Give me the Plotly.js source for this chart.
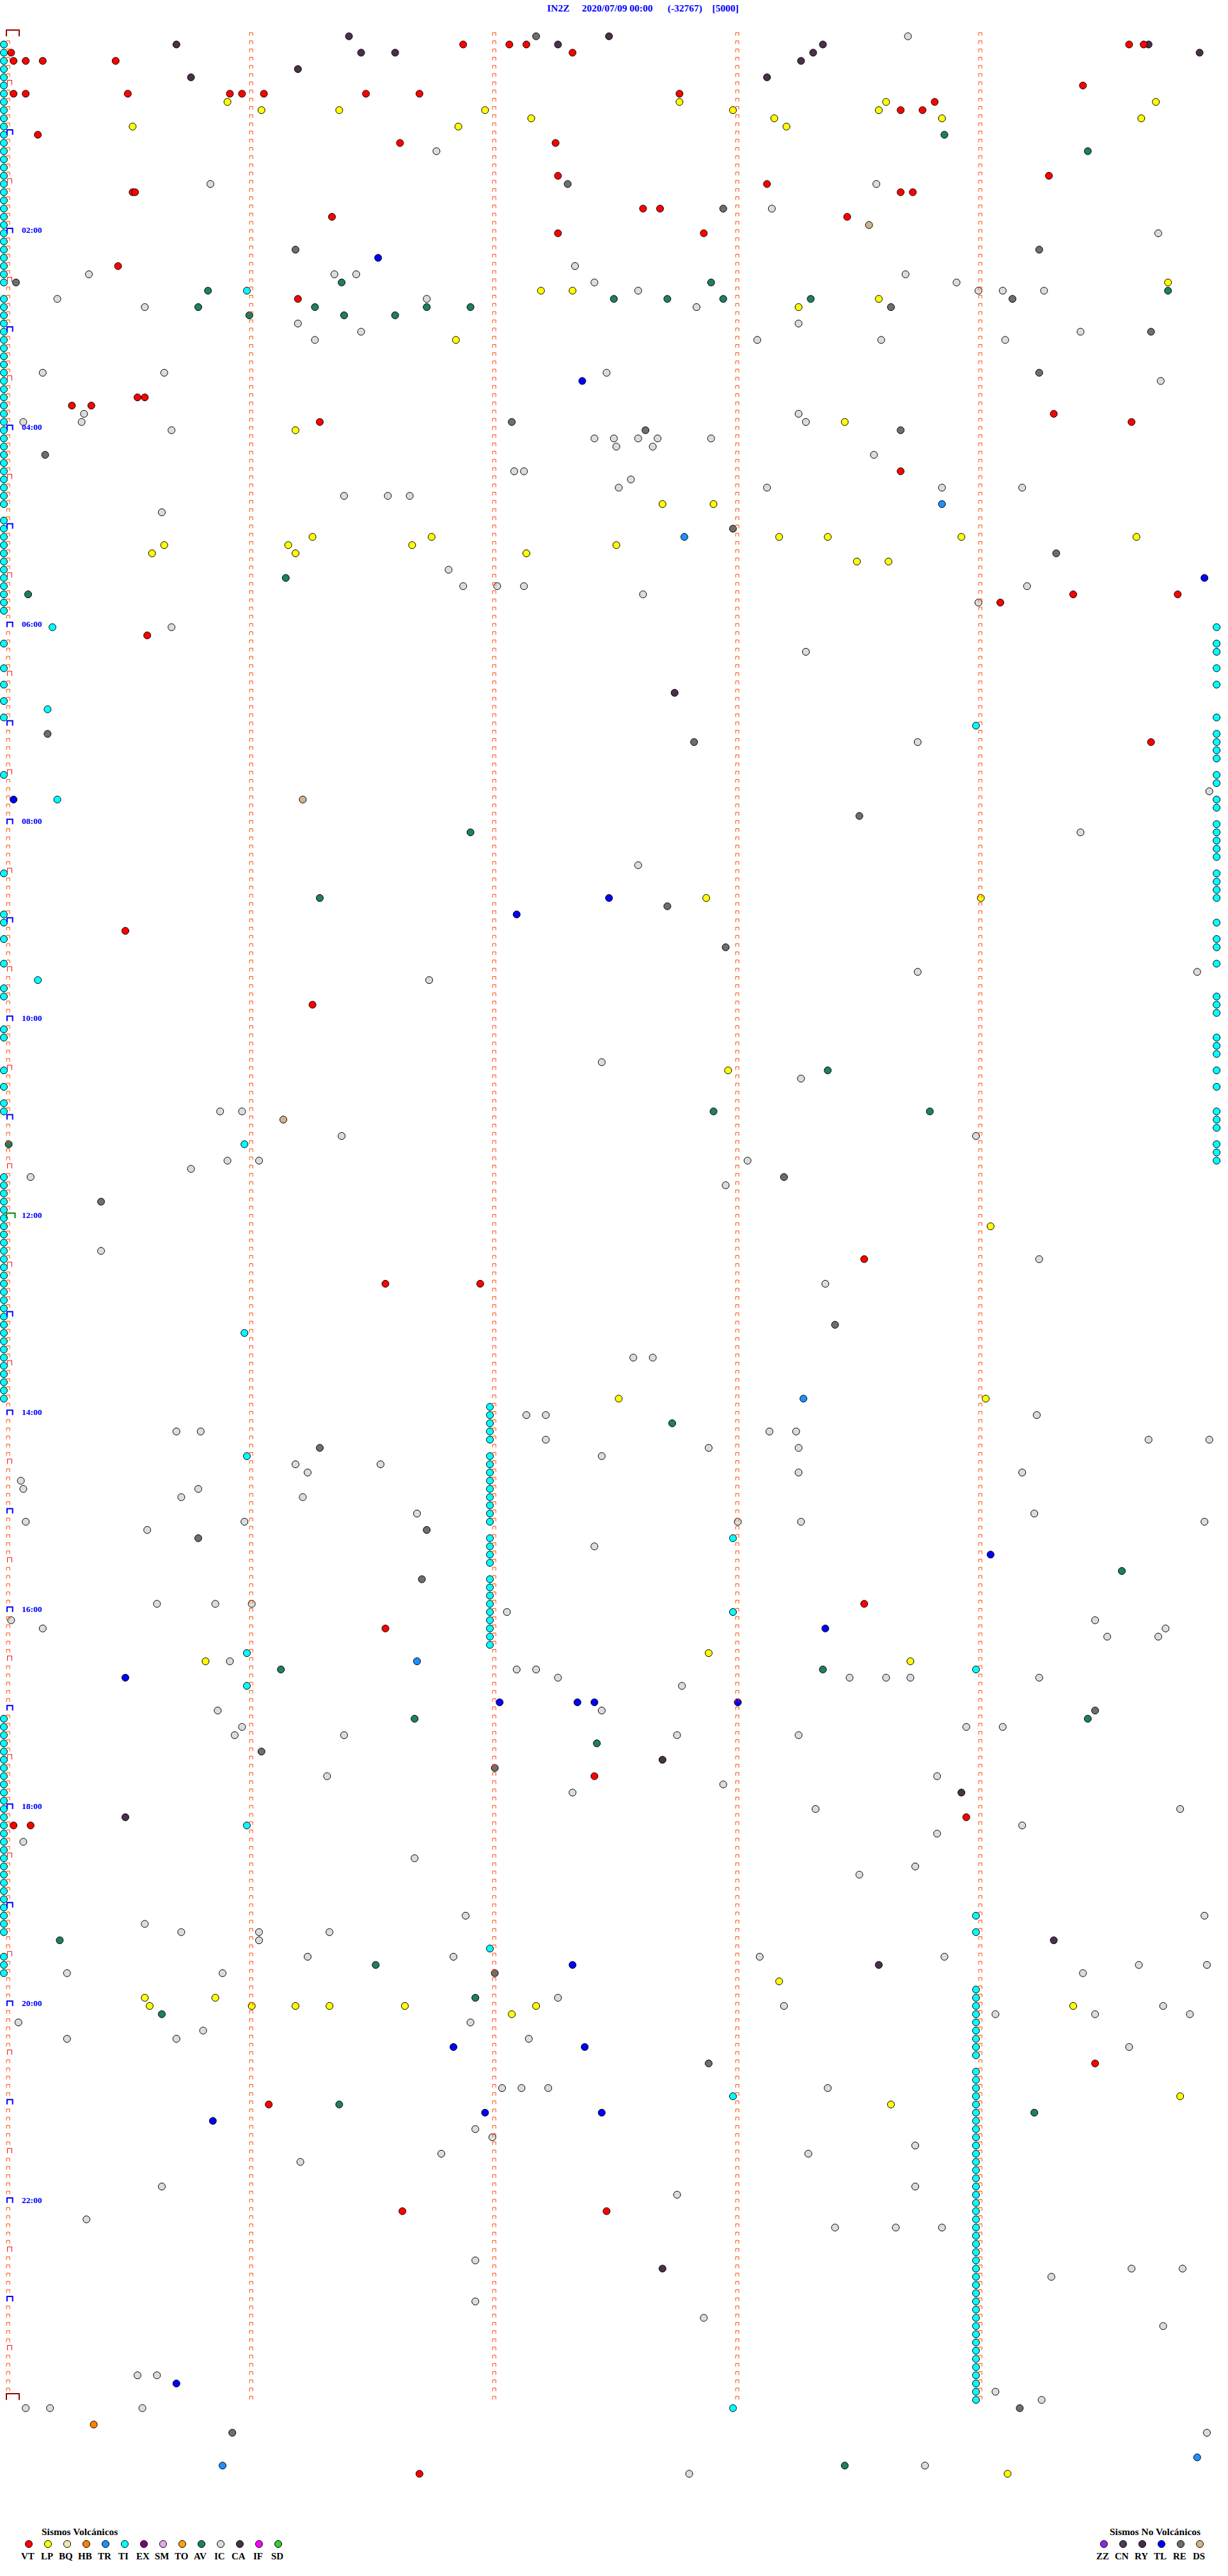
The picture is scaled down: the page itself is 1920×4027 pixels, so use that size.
<!DOCTYPE html>
<html><head><meta charset="utf-8">
<script src="https://cdn.plot.ly/plotly-3.0.1.min.js"></script>
<style>html,body{margin:0;padding:0;background:#fff}#chart{width:1920px;height:4027px}</style>
</head><body><div id="chart"></div>
<script>
// ---- event times, minutes after 2020/07/09 00:00 (each drum row = 5 minutes) ----
const VT = [6.89, 7.08, 7.15, 9.63, 9.69, 10.03, 12.34, 15.04, 15.09, 15.16, 15.46, 34.44, 35.04, 35.09, 35.51, 35.93, 35.98, 36.07, 36.49, 36.71, 37.78, 43.83, 48.69, 48.78, 60.14, 66.63, 67.27, 87.28, 89.30, 93.14, 95.53, 95.54, 98.69, 98.74, 107.63, 107.70, 111.35, 113.47, 122.28, 122.88, 140.47, 161.21, 220.55, 220.58, 225.28, 225.36, 234.32, 236.30, 239.64, 268.69, 344.40, 344.83, 349.10, 365.59, 434.72, 545.50, 591.27, 748.54,
  761.57, 761.96, 958.54, 971.57, 1062.43, 1088.96, 1090.04, 1090.11, 1239.49, 1261.09, 1326.64, 1327.48, 1486.71];
const LP = [40.92, 42.78, 43.63, 44.74, 46.06, 46.38, 46.98, 48.00, 48.60, 52.17, 53.17, 53.86, 54.68, 55.53, 56.87, 58.22, 154.79, 157.21, 157.34, 163.60, 168.27, 186.86, 238.46, 241.20, 287.71, 287.92, 306.27, 306.76, 308.19, 308.39, 308.94, 309.66, 310.66, 311.17, 311.68, 312.52, 315.61, 316.20, 317.15, 323.51, 323.64, 527.89, 529.02, 632.98, 729.06,
  832.53, 834.04, 987.90, 990.83, 993.73, 1188.19, 1195.58, 1195.87, 1200.60, 1201.02, 1201.20, 1201.34, 1201.65, 1202.19, 1204.40, 1207.09, 1259.84, 1263.65, 1489.13];
const TI = [5, 10, 15, 20, 25, 30, 35, 40, 45, 50, 55, 60, 65, 70, 75, 80, 85, 90, 95, 100, 105, 110, 115, 120, 125, 130, 135, 140, 145, 150,
  156.0, 160, 165, 170, 175, 180, 185, 190, 195, 200, 205, 210, 215, 220, 225, 230, 235, 240, 245, 250, 255, 260, 265, 270, 275, 280, 285,
  295, 300, 305, 310, 315, 320, 325, 330, 335, 340, 345, 350, 360.20, 364.99, 370, 374.99, 379.99, 385, 389.99, 395, 399.99, 405, 410.18, 415,
  419.99, 424.00, 429.99, 434.99, 439.99, 444.99, 450, 454.99, 459.99, 465.22, 469.99, 474.99, 484.99, 489.99, 494.99, 499.99, 504.99,
  510, 514.99, 519.99, 524.99, 529.99, 535, 540, 544.99, 550, 554.99, 559.99, 565, 569.99, 575.14, 580, 585, 589.99, 594.99, 599.99,
  605, 610, 614.99, 619.99, 624.99, 630, 634.99, 640, 644.99, 650, 655, 659.99, 664.99, 669.99, 675.99, 679.99, 684.99, 689.99,
  695, 700, 705, 710, 715, 720, 725, 730, 735, 740, 745, 750,
  755, 760, 765, 770, 775, 780, 785, 790, 795, 800, 805, 810, 815, 820, 825, 830, 790.99,
  837, 842, 847, 852, 857, 866.0, 867, 872, 877, 882, 887, 892, 897, 902, 907, 917, 918.0, 922, 927, 932, 942, 947, 952, 957, 962, 963.0, 967, 972, 977, 982,
  986.0, 999.0, 1006.0, 1025, 1030, 1035, 1040, 1045, 1050, 1055, 1060, 1065, 1070, 1075, 1080, 1085, 1090, 1091.0, 1095, 1100, 1105, 1110, 1115, 1120,
  1125, 1130, 1135, 1140, 1145, 1149.0, 1150, 1155, 1159.0, 1167.0, 1170, 1175, 1180,
  1194, 1199, 1204, 1209, 1214, 1219, 1224, 1229, 1234, 1244, 1249, 1254, 1258.0, 1259, 1264, 1269, 1274, 1279, 1284, 1289, 1294, 1299, 1304, 1309,
  1314, 1319, 1324, 1329, 1334, 1339, 1344, 1349, 1354, 1359, 1364, 1369, 1374, 1379, 1384, 1389, 1394, 1399, 1404, 1409, 1414, 1419, 1424,
  1429, 1434, 1439, 1444, 1448.0];
const AV = [63.87, 74.46, 151.39, 152.91, 155.84, 159.79, 162.51, 162.73, 162.96, 163.32, 165.80, 166.28, 166.74, 166.92, 171.01, 171.40, 171.61, 331.16, 340.10, 486.92, 526.30, 633.39, 657.92, 658.81, 675.02,
  847.75, 939.60, 996.14, 998.37, 1026.69, 1029.46, 1042.44, 1160.23, 1176.53, 1196.94, 1205.65, 1261.38, 1269.24, 1483.46];
const IC = [3.72, 71.78, 90.85, 93.59, 108.16, 124.75, 142.35, 145.35, 146.36, 146.45, 148.71, 152.43, 153.92, 157.61, 159.01, 159.11, 159.28, 160.22, 161.74, 165.58, 167.85, 176.21, 178.27, 181.47, 184.43, 186.28, 188.10, 188.61, 189.12, 205.16, 205.66, 207.48, 214.76, 230.33, 233.27, 235.08, 235.32, 238.30, 240.69, 247.43, 247.51, 247.61, 247.69, 247.91, 252.52, 252.67, 258.58, 267.10, 267.14, 272.58, 277.53, 278.14, 278.86, 279.19, 281.40, 281.58, 281.67, 290.65, 326.83, 336.89, 337.03, 337.14, 339.21, 342.63, 349.01, 360.69, 378.30, 433.76, 464.96, 489.43, 507.61, 573.76, 574.91, 576.75, 627.46, 638.28, 655.89, 655.98, 671.39, 674.00, 685.92, 686.05, 688.06, 690.77, 695.11, 702.97, 740.40, 749.26,
  763.38, 807.59, 807.67, 842.15, 842.23, 844.25, 850.71, 850.81, 853.15, 853.26, 857.23, 859.71, 859.96, 862.90, 863.27, 867.46, 871.20, 871.55, 876.25, 878.27, 879.19, 880.07, 885.08, 885.80, 890.73, 891.23, 901.70, 904.24, 905.09, 905.99, 908.02, 908.28, 909.94, 910.59, 922.43, 955.63, 955.87, 956.02, 962.07, 965.03, 969.49, 970.16, 974.78, 979.54, 979.75, 990.93, 997.11, 997.19, 1002.28, 1003.48, 1003.63, 1003.73, 1004.26, 1007.79, 1020.88, 1022.46, 1030.98, 1033.96, 1034.11, 1035.95, 1036.40, 1037.77, 1038.27, 1061.33, 1063.84, 1067.96, 1072.34, 1083.34, 1084.84, 1094.19, 1098.84, 1100.08, 1111.69, 1118.75, 1123.52, 1146.90, 1149.94, 1150.58, 1155.73, 1156.05, 1156.34, 1161.05, 1171.25, 1171.85, 1173.11, 1173.87, 1179.67, 1179.95, 1180.26, 1180.90, 1184.44, 1197.28, 1203.21, 1204.77, 1209.08, 1209.49, 1209.88, 1210.06, 1211.92, 1215.82, 1220.26, 1220.71, 1222.16, 1229.63, 1252.05, 1252.13, 1252.24, 1253.39, 1276.94, 1282.01, 1288.75, 1291.80, 1293.31, 1296.22, 1310.65, 1313.75, 1317.77, 1330.34, 1338.42, 1338.67, 1338.86, 1356.94, 1364.64, 1364.85, 1369.31, 1381.94, 1392.88, 1399.77, 1425.55, 1425.63, 1439.08, 1444.27, 1445.09, 1445.19, 1445.57, 1464.95, 1483.79, 1487.82];
const CA = [1.42, 2.49, 5.71, 7.28, 8.37, 9.71, 11.47, 11.61, 13.33, 14.92, 18.28, 21.21, 25.77, 28.14, 402.76, 1052.71, 1073.94, 1085.50, 1164.32, 1178.60, 1362.71];
const RE = [2.19, 92.32, 107.96, 131.20, 134.26, 150.05, 164.15, 168.65, 184.72, 209.26, 237.09, 242.64, 243.69, 255.17, 303.00, 319.33, 425.18, 432.84, 478.52, 532.73, 557.97, 698.21, 710.40,
  788.42, 861.30, 911.74, 915.80, 941.72, 1024.49, 1046.06, 1057.02, 1182.02, 1237.90, 1449.18, 1460.94];
const TL = [136.54, 212.38, 334.94, 465.04, 527.49, 537.11, 929.06, 973.38, 1000.50, 1017.04, 1017.36, 1017.43, 1018.02, 1177.34, 1226.85, 1227.39, 1266.98, 1267.46, 1270.86, 1430.71];
const TR = [288.86, 307.80, 833.29, 991.70, 1479.91, 1480.90];
const DS = [118.56, 466.23, 661.15];
const HB = [1455.37];

// ---- legend ----
const volcLabels = ['VT','LP','BQ','HB','TR','TI','EX','SM','TO','AV','IC','CA','IF','SD'];
const volcColors = ['#FF0000','#FFFF00','#F2E6B0','#FF8000','#1E90FF','#00FFFF','#800080','#E8A8E8','#FFA500','#1E7F62','#DCDCDC','#4A3048','#FF00FF','#33CC33'];
const noVolcLabels = ['ZZ','CN','RY','TL','RE','DS'];
const noVolcColors = ['#8A2BE2','#4E3A58','#4A2A4A','#0000FF','#6E6E6E','#D2B48C'];
const titleParts = ['IN2Z', '2020/07/09 00:00', '(-32767)', '[5000]'];

// ---- geometry (pixel <-> data) ----
const PXM = 380, PXR = 12.83, X0 = 12.7, Y0 = 54;
const X = px => (px - X0) / PXM;          // px -> minute within row
const Y = py => (py - Y0) / PXR;          // px -> row
const CDX = -6.7 / PXM, CDY = 2.7 / PXR;   // circle offset from tick baseline
const NROWS = 288;

const color = {};
volcLabels.forEach((l, i) => color[l] = volcColors[i]);
noVolcLabels.forEach((l, i) => color[l] = noVolcColors[i]);

function evTrace(times, type) {
  const xs = [], ys = [];
  times.forEach(t => {
    const r = Math.floor(t / 5 + 1e-9);
    xs.push(t - 5 * r + CDX);
    ys.push(r + CDY);
  });
  return {type: 'scatter', mode: 'markers', x: xs, y: ys, hoverinfo: 'skip',
    marker: {size: 11, color: color[type], line: {width: 1, color: '#000'}}};
}

const traces = [];
[[IC,'IC'],[RE,'RE'],[CA,'CA'],[AV,'AV'],[DS,'DS'],[TR,'TR'],[TL,'TL'],[HB,'HB'],[LP,'LP'],[VT,'VT'],[TI,'TI']]
  .forEach(([a, t]) => traces.push(evTrace(a, t)));

// minute ticks on every row
const tx = [], ty = [];
const hw = 2.5 / PXM, tt = 3 / PXR, tb = 2 / PXR;
for (let r = 0; r <= NROWS; r++) {
  for (let k = 0; k <= 4; k++) {
    if (k === 0 && r % 6 === 0) continue;
    tx.push(k - hw, k - hw, k + hw, k + hw, null);
    ty.push(r + tb, r - tt, r - tt, r + tb, null);
  }
}
traces.push({type: 'scatter', mode: 'lines', x: tx, y: ty, hoverinfo: 'skip',
  line: {color: '#FF4500', width: 1}});

// hour / half-hour brackets on the left edge
function bracketTrace(rows, x1, x2, top, bot, col, w) {
  const bx = [], by = [];
  rows.forEach(r => {
    bx.push(X(x1), X(x1), X(x2), X(x2), null);
    by.push(r + bot / PXR, r + top / PXR, r + top / PXR, r + bot / PXR, null);
  });
  return {type: 'scatter', mode: 'lines', x: bx, y: by, hoverinfo: 'skip', line: {color: col, width: w}};
}
const halfRows = [], hourRows = [];
for (let h = 0; h < 24; h++) { halfRows.push(12 * h + 6); if (h > 0 && h !== 12) hourRows.push(12 * h); }
traces.push(bracketTrace(halfRows, 11.5, 18.5, -5.5, 2, '#FF0000', 1));
traces.push(bracketTrace(hourRows, 11, 19.7, -5, 2.7, '#0000FF', 2));
traces.push(bracketTrace([144], 10.2, 23.5, -5, 2.7, '#008000', 2));
traces.push(bracketTrace([0, NROWS], 10, 30, -7, 2.7, '#990000', 2));

// legend markers
const legX = [], legY = [], legC = [];
volcLabels.forEach((l, i) => { legX.push(X(45 + 30 * i)); legY.push(Y(3977)); legC.push(volcColors[i]); });
noVolcLabels.forEach((l, i) => { legX.push(X(1726 + 30 * i)); legY.push(Y(3977)); legC.push(noVolcColors[i]); });
traces.push({type: 'scatter', mode: 'markers', x: legX, y: legY, hoverinfo: 'skip',
  marker: {size: 11, color: legC, line: {width: 1, color: '#000'}}});

const serif = 'Liberation Serif, Times New Roman, serif';
const ann = [];
for (let h = 2; h <= 22; h += 2) {
  ann.push({x: X(31.5), y: 12 * h - 2 / PXR, xref: 'x', yref: 'y', xanchor: 'left', yanchor: 'middle',
    text: (h < 10 ? '0' : '') + h + ':00', showarrow: false,
    font: {family: serif, size: 13.5, color: '#0000FF', weight: 'bold'}});
}
ann.push({x: X(124), y: Y(3957), xref: 'x', yref: 'y', text: 'Sismos Volcánicos', showarrow: false,
  xanchor: 'center', yanchor: 'middle', font: {family: serif, size: 15.5, color: '#000', weight: 'bold'}});
ann.push({x: X(1806), y: Y(3957), xref: 'x', yref: 'y', text: 'Sismos No Volcánicos', showarrow: false,
  xanchor: 'center', yanchor: 'middle', font: {family: serif, size: 15.5, color: '#000', weight: 'bold'}});
volcLabels.forEach((l, i) => ann.push({x: X(43 + 30 * i), y: Y(3996), xref: 'x', yref: 'y', text: l, showarrow: false,
  xanchor: 'center', yanchor: 'middle', font: {family: serif, size: 15, color: '#000', weight: 'bold'}}));
noVolcLabels.forEach((l, i) => ann.push({x: X(1724 + 30 * i), y: Y(3996), xref: 'x', yref: 'y', text: l, showarrow: false,
  xanchor: 'center', yanchor: 'middle', font: {family: serif, size: 15, color: '#000', weight: 'bold'}}));

const nb = n => '\u00A0'.repeat(n);
const layout = {
  width: 1920, height: 4027, autosize: false,
  margin: {l: 0, r: 0, t: 0, b: 0, pad: 0},
  paper_bgcolor: '#FFFFFF', plot_bgcolor: '#FFFFFF', showlegend: false, hovermode: false,
  title: {text: titleParts[0] + nb(5) + titleParts[1] + nb(6) + titleParts[2] + nb(4) + titleParts[3],
    x: 1005 / 1920, xanchor: 'center', y: 1 - 13 / 4027, yanchor: 'middle', xref: 'container', yref: 'container',
    font: {family: serif, size: 15.5, color: '#0000FF', weight: 'bold'}},
  xaxis: {range: [X(0), X(1920)], visible: false, fixedrange: true},
  yaxis: {range: [Y(4027), Y(0)], visible: false, fixedrange: true},
  annotations: ann
};
Plotly.newPlot('chart', traces, layout, {staticPlot: true, displayModeBar: false});
</script>
</body></html>
